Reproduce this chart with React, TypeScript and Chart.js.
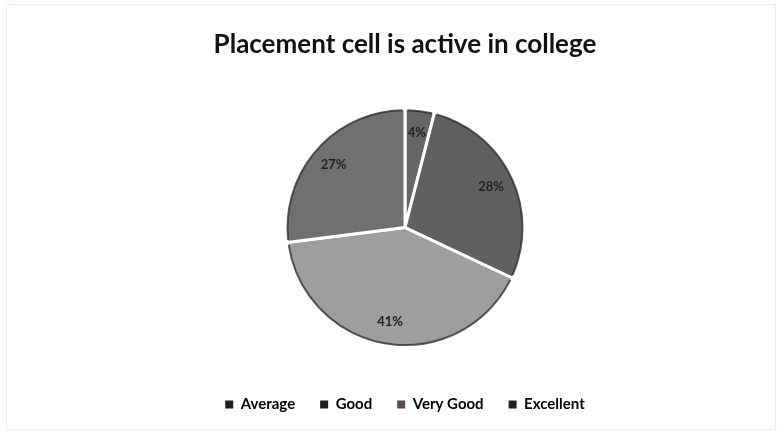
import React, { useEffect, useRef } from "react";
import { Chart, registerables } from "chart.js";

Chart.register(...registerables);

const categories = ["Average", "Good", "Very Good", "Excellent"];
const values = [4, 28, 41, 27];
const sliceColors = ["#666666", "#606060", "#9e9e9e", "#707070"];
const legendColors = ["#1e1e1e", "#1e1e1e", "#5a4a50", "#1e1e1e"];
const titleText = "Placement cell is active in college";

const labelPlugin = {
  id: "sliceLabels",
  afterDatasetsDraw(chart: any) {
    const meta = chart.getDatasetMeta(0);
    const ctx = chart.ctx;
    const ds = chart.data.datasets[0];
    const total = (ds.data as number[]).reduce((a, b) => a + b, 0);
    ctx.save();
    meta.data.forEach((arc: any) => {
      const p = arc.getProps(["startAngle", "endAngle", "outerRadius", "x", "y"], true);
      const gap = 2.5 / p.outerRadius;
      ctx.beginPath();
      ctx.strokeStyle = "rgba(40,40,40,0.75)";
      ctx.lineWidth = 2;
      ctx.arc(p.x, p.y, p.outerRadius - 1.5, p.startAngle + gap, p.endAngle - gap);
      ctx.stroke();
    });
    ctx.font = "bold 13px Lato, 'Open Sans', sans-serif";
    ctx.fillStyle = "#222";
    ctx.textAlign = "center";
    ctx.textBaseline = "middle";
    meta.data.forEach((arc: any, i: number) => {
      const p = arc.getProps(["startAngle", "endAngle", "outerRadius", "x", "y"], true);
      const mid = (p.startAngle + p.endAngle) / 2;
      const r = p.outerRadius * 0.8;
      const x = p.x + Math.cos(mid) * r;
      const y = p.y + Math.sin(mid) * r;
      const pct = Math.round(((ds.data[i] as number) / total) * 100);
      ctx.fillText(pct + "%", x, y);
    });
    ctx.restore();
  },
};

export default function App() {
  const ref = useRef<HTMLCanvasElement>(null);
  useEffect(() => {
    document.body.style.margin = "0";
    const chart = new Chart(ref.current!, {
      type: "pie",
      data: {
        labels: categories,
        datasets: [
          {
            data: values,
            backgroundColor: sliceColors,
            borderColor: "#ffffff",
            borderWidth: 3,
            radius: 119,
          },
        ],
      },
      options: {
        animation: false,
        responsive: false,
        rotation: 0,
        layout: { padding: { left: 26, right: 0, top: 0, bottom: 13 } },
        plugins: {
          title: {
            display: true,
            text: titleText,
            color: "#111",
            font: { family: "Lato, 'Open Sans', sans-serif", size: 26, weight: "bold" },
            padding: { top: 29, bottom: 23 },
          },
          legend: {
            position: "bottom",
            labels: {
              color: "#222",
              boxWidth: 8,
              boxHeight: 8,
              padding: 25,
              font: { family: "Lato, 'Open Sans', sans-serif", size: 15, weight: "bold" },
              generateLabels: () =>
                categories.map((t, i) => ({
                  text: t,
                  fillStyle: legendColors[i],
                  strokeStyle: legendColors[i],
                  lineWidth: 0,
                  hidden: false,
                  index: i,
                  datasetIndex: 0,
                })),
            },
          },
          tooltip: { enabled: false },
        },
      },
      plugins: [labelPlugin],
    });
    return () => chart.destroy();
  }, []);
  return (
    <div style={{ position: "relative", width: 784, height: 435, background: "#fff" }}>
      <div
        style={{
          position: "absolute",
          left: 6,
          top: 4,
          width: 770,
          height: 426,
          border: "1px solid #f3eaec",
          boxSizing: "border-box",
        }}
      />
      <canvas ref={ref} width={784} height={435} style={{ position: "absolute", left: 0, top: 0 }} />
    </div>
  );
}
